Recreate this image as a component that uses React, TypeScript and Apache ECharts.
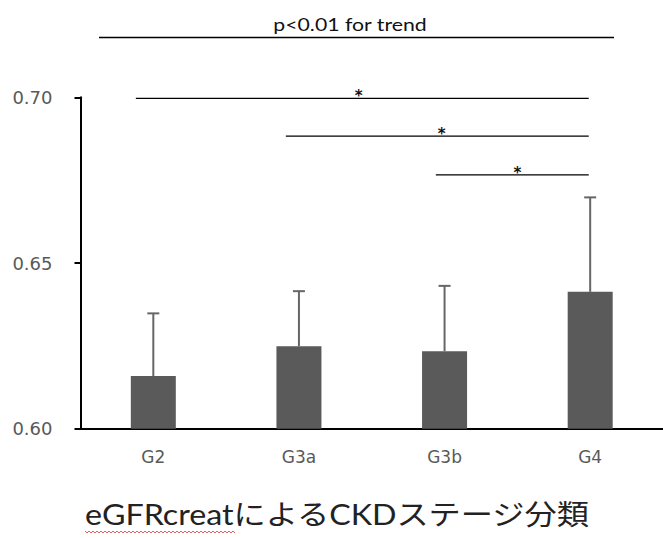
import React, { useEffect, useRef } from "react";
import * as echarts from "echarts";

const categories = ["G2", "G3a", "G3b", "G4"];
const means = [0.6159, 0.6249, 0.6234, 0.6413];
const sds = [0.0189, 0.0166, 0.0197, 0.0285];
const yMin = 0.6;
const yMax = 0.7;
const yStep = 0.05;
// significance brackets (fractional category positions)
const sigFrom = [-0.12, 0.91, 1.94];
const sigTo = [2.99, 2.99, 2.99];
const sigLevel = [0.6997, 0.6883, 0.6766];
const sigStarPos = [1.41, 1.98, 2.5];
const sigMark = ["*", "*", "*"];
const trendText = "p<0.01 for trend";
const xTitle = "eGFRcreatによるCKDステージ分類";

const LATIN = "Lato, 'Noto Sans CJK JP', sans-serif";
const AXISFONT = "'DejaVu Sans', sans-serif";

export default function App() {
  const ref = useRef<HTMLDivElement>(null);
  useEffect(() => {
    if (!ref.current) return;
    const chart = echarts.init(ref.current, undefined, { renderer: "svg" });

    const fracCoord = (api: any, f: number, v: number) => {
      const base = Math.floor(f);
      const p = api.coord([base, v]);
      const band = api.size([1, 0])[0];
      return [p[0] + (f - base) * band, p[1]];
    };

    // spell-check squiggle under "eGFRcreat"
    const squiggle: number[][] = [];
    for (let x = 85, k = 0; x <= 235; x += 2, k++) {
      squiggle.push([x, k % 2 === 0 ? 531 : 533]);
    }

    chart.setOption({
      animation: false,
      backgroundColor: "#ffffff",
      grid: { left: 80.5, right: -1.5, top: 97.3, bottom: 109.3, containLabel: false },
      xAxis: {
        type: "category",
        data: categories,
        axisLine: { show: true, lineStyle: { color: "#000000", width: 2 } },
        axisTick: { show: false },
        axisLabel: { color: "#595959", fontSize: 17, fontFamily: AXISFONT, margin: 20 },
        splitLine: { show: false },
      },
      yAxis: {
        type: "value",
        min: yMin,
        max: yMax,
        interval: yStep,
        axisLine: { show: true, lineStyle: { color: "#000000", width: 2 } },
        axisTick: { show: true, length: 6, lineStyle: { color: "#000000", width: 2 } },
        axisLabel: {
          color: "#595959",
          fontSize: 18,
          fontFamily: AXISFONT,
          margin: 28,
          formatter: (v: number) => v.toFixed(2),
        },
        splitLine: { show: false },
      },
      series: [
        {
          type: "bar",
          data: means,
          barWidth: 45,
          itemStyle: { color: "#5a5a5a" },
          z: 2,
        },
        {
          type: "custom",
          z: 3,
          data: means.map((m, i) => [i, m, m + sds[i]]),
          renderItem: (params: any, api: any) => {
            const i = api.value(0);
            const bottom = api.coord([i, api.value(1)]);
            const top = api.coord([i, api.value(2)]);
            const cap = 6;
            const st = { stroke: "#666666", lineWidth: 2 };
            return {
              type: "group",
              children: [
                { type: "line", shape: { x1: top[0], y1: top[1], x2: bottom[0], y2: bottom[1] }, style: st },
                { type: "line", shape: { x1: top[0] - cap, y1: top[1], x2: top[0] + cap, y2: top[1] }, style: st },
              ],
            };
          },
        },
        {
          type: "custom",
          z: 4,
          clip: false,
          data: sigFrom.map((f, i) => [f, sigTo[i], sigLevel[i], sigStarPos[i]]),
          renderItem: (params: any, api: any) => {
            const idx = params.dataIndex;
            const a = fracCoord(api, api.value(0), api.value(2));
            const b = fracCoord(api, api.value(1), api.value(2));
            const s = fracCoord(api, api.value(3), api.value(2));
            return {
              type: "group",
              children: [
                {
                  type: "line",
                  shape: { x1: a[0], y1: a[1], x2: b[0], y2: b[1] },
                  style: { stroke: "#000000", lineWidth: 1.3 },
                },
                {
                  type: "text",
                  style: {
                    x: s[0],
                    y: s[1] - 2,
                    text: sigMark[idx],
                    fill: "#111111",
                    font: `bold 15px ${AXISFONT}`,
                    align: "center",
                    verticalAlign: "middle",
                  },
                },
              ],
            };
          },
        },
      ],
      graphic: [
        {
          type: "line",
          shape: { x1: 99, y1: 37.5, x2: 614, y2: 37.5 },
          style: { stroke: "#000000", lineWidth: 1.5 },
        },
        {
          type: "text",
          x: 350,
          y: 24,
          scaleX: 1.25,
          style: {
            text: trendText,
            fill: "#111111",
            font: `17px ${LATIN}`,
            align: "center",
            verticalAlign: "middle",
          },
        },
        {
          type: "text",
          x: 337,
          y: 514,
          scaleX: 1.15,
          style: {
            text: xTitle,
            fill: "#222222",
            font: `28px ${LATIN}`,
            align: "center",
            verticalAlign: "middle",
          },
        },
        {
          type: "polyline",
          shape: { points: squiggle },
          style: { stroke: "#e06060", lineWidth: 1, fill: "none" },
        },
      ],
    });
    return () => chart.dispose();
  }, []);
  return (
    <div
      ref={ref}
      style={{ position: "fixed", left: 0, top: 0, width: 663, height: 538, background: "#fff" }}
    />
  );
}
